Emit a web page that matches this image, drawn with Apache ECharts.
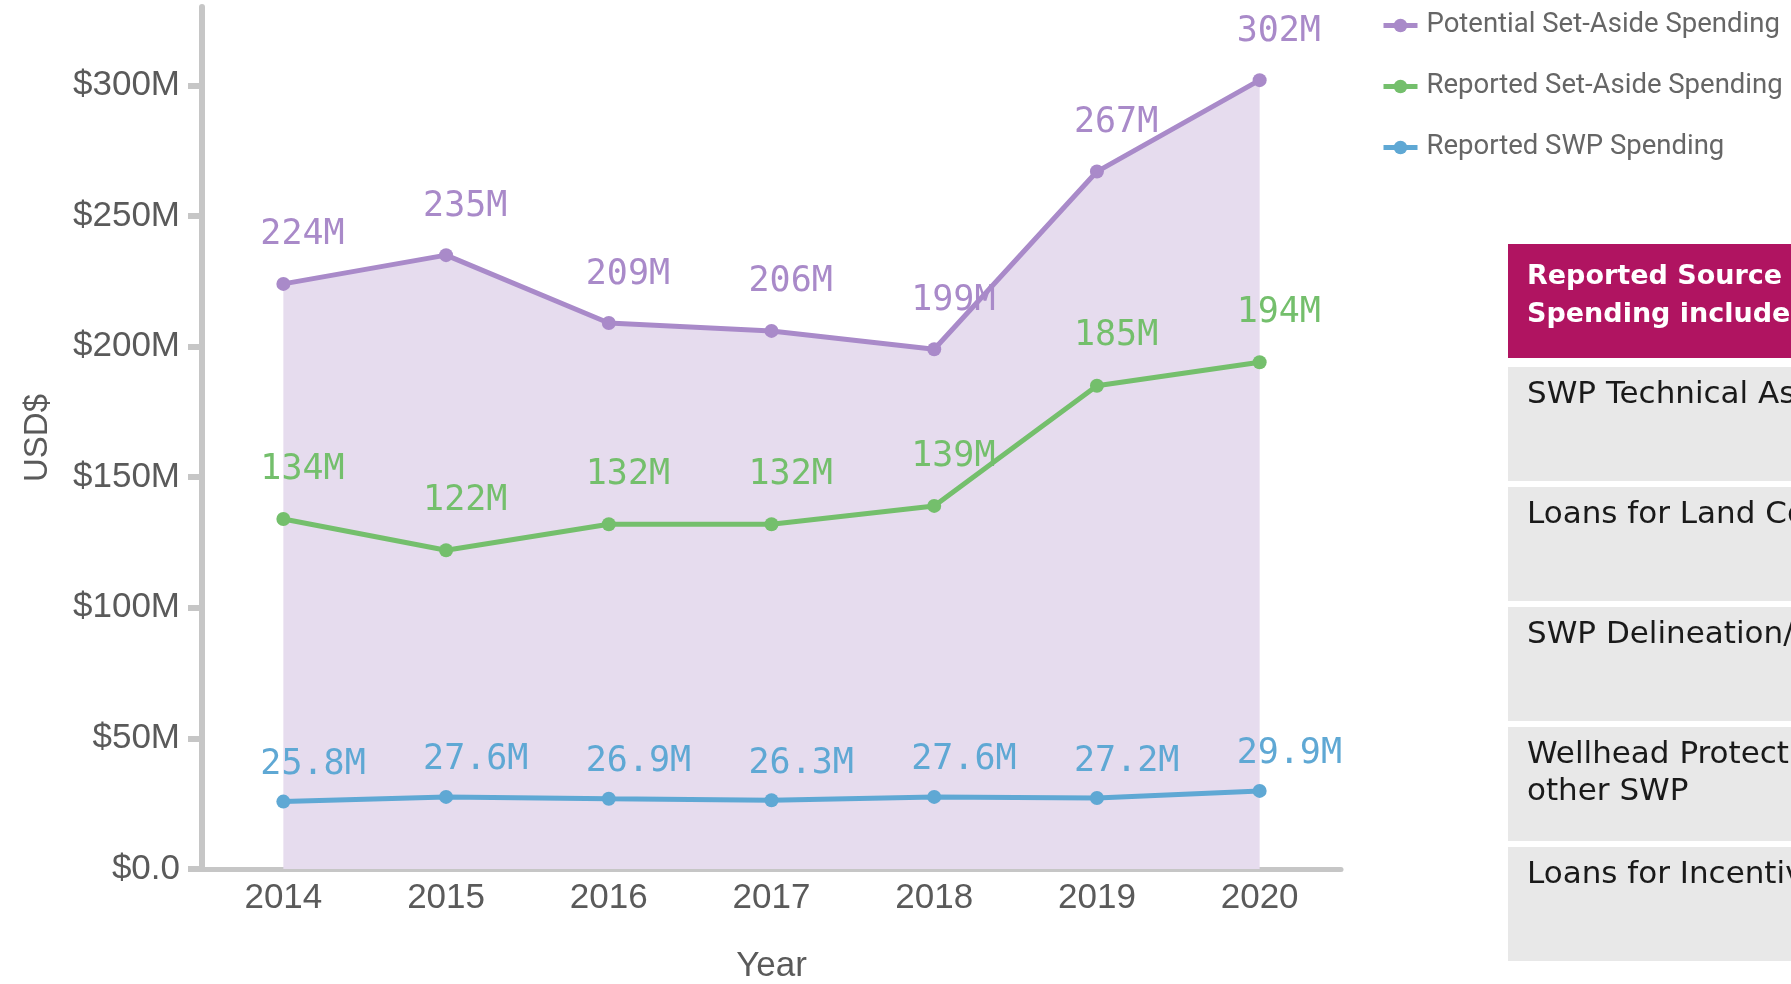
<!DOCTYPE html>
<html>
<head>
<meta charset="utf-8">
<script src="https://cdn.jsdelivr.net/npm/echarts@6/dist/echarts.min.js"></script>
<style>
  html, body { margin: 0; padding: 0; background: #fff; }
  #chart { width: 1791px; height: 984px; }
</style>
</head>
<body>
<div id="chart"></div>
<script>
// data (millions of USD)
const years = ['2014', '2015', '2016', '2017', '2018', '2019', '2020']
const potentialSetAside = [224, 235, 209, 206, 199, 267, 302]
const reportedSetAside = [134, 122, 132, 132, 139, 185, 194]
const reportedSWP = [25.8, 27.6, 26.9, 26.3, 27.6, 27.2, 29.9]
const yTicks = [0, 50, 100, 150, 200, 250, 300]

const seriesNames = ['Potential Set-Aside Spending', 'Reported Set-Aside Spending', 'Reported SWP Spending']

// side table text
const tableHeader = 'Reported Source\nSpending includes:'
const tableRows = [
  'SWP Technical Assistance',
  'Loans for Land Conservation',
  'SWP Delineation/Assessment',
  'Wellhead Protection and\nother SWP',
  'Loans for Incentive-based'
]

const purple = '#a98ac9'
const green = '#74bf6c'
const blue = '#5fa8d4'
const axisGray = '#c6c6c6'
const textGray = '#5a5a5a'

const chart = echarts.init(document.getElementById('chart'))

const labelStyle = (color, distance) => ({
  show: true,
  position: 'top',
  distance: distance,
  align: 'left',
  offset: [-23, 0],
  color: color,
  fontSize: 35,
  fontFamily: 'DejaVu Sans Mono',
  formatter: p => p.value + 'M'
})

const lineSeries = (name, data, color, distance) => ({
  name: name,
  type: 'line',
  data: data,
  symbol: 'circle',
  symbolSize: 14,
  itemStyle: { color: color },
  lineStyle: { color: color, width: 5 },
  label: labelStyle(color, distance)
})

const graphics = [
  {
    type: 'rect',
    left: 1508,
    top: 244,
    shape: { width: 300, height: 114 },
    style: { fill: '#b01461' }
  },
  {
    type: 'text',
    left: 1527,
    top: 258,
    style: {
      text: tableHeader,
      fill: '#fff',
      font: 'bold 27px "DejaVu Sans"',
      lineHeight: 38
    }
  }
]
tableRows.forEach((t, i) => {
  graphics.push({
    type: 'rect',
    left: 1508,
    top: 367 + i * 120,
    shape: { width: 300, height: 114 },
    style: { fill: '#e8e8e8' }
  })
  graphics.push({
    type: 'text',
    left: 1527,
    top: 376 + i * 120,
    style: {
      text: t,
      fill: '#1a1a1a',
      font: '31px "DejaVu Sans"',
      lineHeight: 37
    }
  })
})

const option = {
  backgroundColor: '#fff',
  animation: false,
  grid: { left: 202, right: 450, top: 7, bottom: 115, outerBoundsMode: 'none' },
  legend: {
    orient: 'vertical',
    left: 1376,
    top: 5,
    itemWidth: 34,
    itemHeight: 17,
    itemGap: 30,
    data: seriesNames,
    lineStyle: { width: 5 },
    textStyle: {
      color: '#666',
      fontSize: 27.5,
      lineHeight: 31,
      fontFamily: 'Roboto',
      padding: [0, 0, 0, 4]
    }
  },
  xAxis: {
    type: 'category',
    data: years,
    boundaryGap: true,
    name: 'Year',
    nameLocation: 'middle',
    nameGap: 80,
    nameTextStyle: { color: textGray, fontSize: 35, fontFamily: 'Liberation Sans' },
    axisLine: { lineStyle: { color: axisGray, width: 5 } },
    axisTick: { alignWithLabel: true, length: 12, lineStyle: { color: axisGray, width: 7 } },
    axisLabel: { color: textGray, fontSize: 35, fontFamily: 'Liberation Sans', margin: 12 }
  },
  yAxis: {
    type: 'value',
    min: 0,
    max: 330,
    interval: 50,
    name: 'USD$',
    nameLocation: 'middle',
    nameGap: 148,
    nameTextStyle: { color: textGray, fontSize: 33, fontFamily: 'Liberation Sans' },
    splitLine: { show: false },
    axisLine: { show: true, lineStyle: { color: axisGray, width: 6 } },
    axisTick: { show: true, length: 14, customValues: yTicks, lineStyle: { color: axisGray, width: 6 } },
    axisLabel: {
      color: textGray,
      fontSize: 35,
      fontFamily: 'Liberation Sans',
      margin: 22,
      customValues: yTicks,
      formatter: v => (v === 0 ? '$0.0' : '$' + v + 'M')
    }
  },
  series: [
    Object.assign(lineSeries(seriesNames[0], potentialSetAside, purple, 24), {
      areaStyle: { color: '#e6dcee', opacity: 1 }
    }),
    lineSeries(seriesNames[1], reportedSetAside, green, 25),
    lineSeries(seriesNames[2], reportedSWP, blue, 12)
  ],
  graphic: graphics
}

chart.setOption(option)
</script>
</body>
</html>
